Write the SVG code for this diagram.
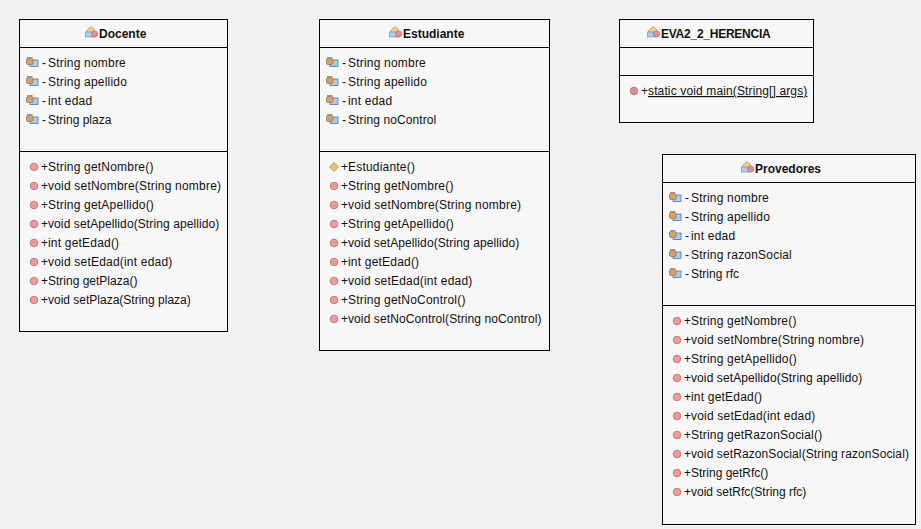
<svg xmlns="http://www.w3.org/2000/svg" width="921" height="529" viewBox="0 0 921 529">
<style>
.box{fill:#f7f7f7;stroke:#000;stroke-width:1;shape-rendering:crispEdges}
.ln{stroke:#000;stroke-width:1;shape-rendering:crispEdges}
text{font-family:"Liberation Sans",Arial,sans-serif;font-size:12px;fill:#111;letter-spacing:.2px}
.t{font-weight:bold;letter-spacing:0}
.u{text-decoration:underline;letter-spacing:.13px}
.n{letter-spacing:.1px}
.z{letter-spacing:0}
</style>
<defs>
<g id="ci"><path d="M-6 -2 L-1 -6.500 L3 -3 L-1 1 Z" fill="#f0cf8a" stroke="#b09050" stroke-width=".7"/><rect x="-6.500" y="-1" width="8" height="5" fill="#a9cdea" stroke="#6f93b5" stroke-width=".7"/><circle cx="2.500" cy="1" r="3.200" fill="#f08a8a" stroke="#c66" stroke-width=".6"/></g>
<g id="fi"><rect x="-2" y="-2" width="8" height="6.500" fill="#a9cdea" stroke="#4f7aa0" stroke-width=".8"/><rect x="-5.500" y="-3.500" width="6.500" height="6" rx="1.500" fill="#d9a066" stroke="#8b7a65" stroke-width=".8"/><path d="M-5 -4.500H0.500" stroke="#999" stroke-width="1"/></g>
<circle id="mi" r="3.800" fill="#f19a9a" stroke="#b76a6a" stroke-width=".8"/>
<path id="ki" d="M0 -4.500 L4.500 0 L0 4.500 L-4.500 0 Z" fill="#edc268" stroke="#a88a4a" stroke-width=".8"/>
<g id="si"><circle r="3.800" fill="#e89a9a" stroke="#b06a6a" stroke-width=".8"/><path d="M-1 -3.500V3.500M1 -3.500V3.500" stroke="#b06a6a" stroke-width=".5"/></g>
</defs>
<rect width="921" height="529" fill="#f1f1f1"/>
<g id="connectors"/>
<g id="docente">
<rect class="box" x="19.500" y="19.500" width="208" height="312"/>
<path class="ln" d="M19 47.500H227M19 151.500H227"/>
<use href="#ci" x="92" y="33"/><text class="t" x="99" y="38">Docente</text>
<use href="#fi" x="32" y="62"/><text x="42" y="67">-<tspan x="48">String nombre</tspan></text>
<use href="#fi" x="32" y="81"/><text x="42" y="86">-<tspan x="48">String apellido</tspan></text>
<use href="#fi" x="32" y="100"/><text x="42" y="105">-<tspan x="48">int edad</tspan></text>
<use href="#fi" x="32" y="119"/><text x="42" y="124">-<tspan x="48" class="z">String plaza</tspan></text>
<use href="#mi" x="34" y="167"/><text x="41" y="171">+<tspan x="48">String getNombre()</tspan></text>
<use href="#mi" x="34" y="186"/><text x="41" y="190">+<tspan x="48">void setNombre(String nombre)</tspan></text>
<use href="#mi" x="34" y="205"/><text x="41" y="209">+<tspan x="48">String getApellido()</tspan></text>
<use href="#mi" x="34" y="224"/><text x="41" y="228">+<tspan x="48" class="n">void setApellido(String apellido)</tspan></text>
<use href="#mi" x="34" y="243"/><text x="41" y="247">+<tspan x="48">int getEdad()</tspan></text>
<use href="#mi" x="34" y="262"/><text x="41" y="266">+<tspan x="48">void setEdad(int edad)</tspan></text>
<use href="#mi" x="34" y="281"/><text x="41" y="285">+<tspan x="48" class="z">String getPlaza()</tspan></text>
<use href="#mi" x="34" y="300"/><text x="41" y="304">+<tspan x="48" class="z">void setPlaza(String plaza)</tspan></text>
</g>
<g id="estudiante">
<rect class="box" x="319.500" y="19.500" width="230" height="331"/>
<path class="ln" d="M319 47.500H549M319 151.500H549"/>
<use href="#ci" x="396" y="33"/><text class="t" x="403" y="38">Estudiante</text>
<use href="#fi" x="332" y="62"/><text x="342" y="67">-<tspan x="348">String nombre</tspan></text>
<use href="#fi" x="332" y="81"/><text x="342" y="86">-<tspan x="348">String apellido</tspan></text>
<use href="#fi" x="332" y="100"/><text x="342" y="105">-<tspan x="348">int edad</tspan></text>
<use href="#fi" x="332" y="119"/><text x="342" y="124">-<tspan x="348" class="n">String noControl</tspan></text>
<use href="#ki" x="334" y="167"/><text x="341" y="171">+<tspan x="348">Estudiante()</tspan></text>
<use href="#mi" x="334" y="186"/><text x="341" y="190">+<tspan x="348">String getNombre()</tspan></text>
<use href="#mi" x="334" y="205"/><text x="341" y="209">+<tspan x="348">void setNombre(String nombre)</tspan></text>
<use href="#mi" x="334" y="224"/><text x="341" y="228">+<tspan x="348">String getApellido()</tspan></text>
<use href="#mi" x="334" y="243"/><text x="341" y="247">+<tspan x="348" class="n">void setApellido(String apellido)</tspan></text>
<use href="#mi" x="334" y="262"/><text x="341" y="266">+<tspan x="348">int getEdad()</tspan></text>
<use href="#mi" x="334" y="281"/><text x="341" y="285">+<tspan x="348">void setEdad(int edad)</tspan></text>
<use href="#mi" x="334" y="300"/><text x="341" y="304">+<tspan x="348">String getNoControl()</tspan></text>
<use href="#mi" x="334" y="319"/><text x="341" y="323">+<tspan x="348" class="n">void setNoControl(String noControl)</tspan></text>
</g>
<g id="eva2_2_herencia">
<rect class="box" x="619.500" y="19.500" width="194" height="103"/>
<path class="ln" d="M619 47.500H813M619 75.500H813"/>
<use href="#ci" x="654" y="33"/><text class="t" x="661" y="38" style="letter-spacing:-.25px">EVA2_2_HERENCIA</text>
<use href="#si" x="634" y="91"/><text x="641" y="95">+<tspan class="u" x="648">static void main(String[] args)</tspan></text>
</g>
<g id="provedores">
<rect class="box" x="662.500" y="154.500" width="253" height="370"/>
<path class="ln" d="M662 182.500H915M662 305.500H915"/>
<use href="#ci" x="748" y="168"/><text class="t" x="755" y="173">Provedores</text>
<use href="#fi" x="675" y="197"/><text x="685" y="202">-<tspan x="691">String nombre</tspan></text>
<use href="#fi" x="675" y="216"/><text x="685" y="221">-<tspan x="691">String apellido</tspan></text>
<use href="#fi" x="675" y="235"/><text x="685" y="240">-<tspan x="691">int edad</tspan></text>
<use href="#fi" x="675" y="254"/><text x="685" y="259">-<tspan x="691">String razonSocial</tspan></text>
<use href="#fi" x="675" y="273"/><text x="685" y="278">-<tspan x="691" class="z">String rfc</tspan></text>
<use href="#mi" x="677" y="321"/><text x="684" y="325">+<tspan x="691">String getNombre()</tspan></text>
<use href="#mi" x="677" y="340"/><text x="684" y="344">+<tspan x="691">void setNombre(String nombre)</tspan></text>
<use href="#mi" x="677" y="359"/><text x="684" y="363">+<tspan x="691">String getApellido()</tspan></text>
<use href="#mi" x="677" y="378"/><text x="684" y="382">+<tspan x="691" class="n">void setApellido(String apellido)</tspan></text>
<use href="#mi" x="677" y="397"/><text x="684" y="401">+<tspan x="691">int getEdad()</tspan></text>
<use href="#mi" x="677" y="416"/><text x="684" y="420">+<tspan x="691">void setEdad(int edad)</tspan></text>
<use href="#mi" x="677" y="435"/><text x="684" y="439">+<tspan x="691">String getRazonSocial()</tspan></text>
<use href="#mi" x="677" y="454"/><text x="684" y="458">+<tspan x="691" class="n">void setRazonSocial(String razonSocial)</tspan></text>
<use href="#mi" x="677" y="473"/><text x="684" y="477">+<tspan x="691" class="z">String getRfc()</tspan></text>
<use href="#mi" x="677" y="492"/><text x="684" y="496">+<tspan x="691" class="z">void setRfc(String rfc)</tspan></text>
</g>
</svg>
